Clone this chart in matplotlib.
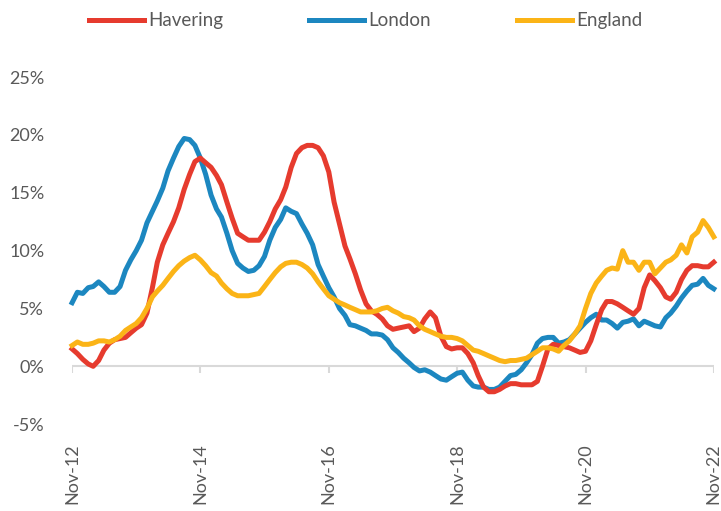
import numpy as np
import pandas as pd
import matplotlib
matplotlib.use('Agg')
from matplotlib import pyplot as plt
from matplotlib.ticker import FuncFormatter
import matplotlib.dates as mdates

# monthly annual change in house prices, Nov-12 .. Nov-22
months = pd.date_range('2012-11-01', periods=121, freq='MS')

havering = [1.5, 1.1, 0.6, 0.2, 0.0, 0.5, 1.4, 2.0, 2.3, 2.4,
            2.5, 2.9, 3.3, 3.6, 4.6, 6.8, 9.0, 10.5, 11.5, 12.5,
            13.7, 15.3, 16.6, 17.7, 18.0, 17.6, 17.2, 16.5, 15.7, 14.2,
            12.8, 11.5, 11.2, 10.9, 10.9, 10.9, 11.6, 12.5, 13.6, 14.4,
            15.5, 17.2, 18.4, 18.9, 19.1, 19.1, 18.9, 18.2, 16.8, 14.2,
            12.3, 10.4, 9.3, 8.0, 6.6, 5.4, 4.8, 4.5, 4.1, 3.5,
            3.2, 3.3, 3.4, 3.5, 3.0, 3.3, 4.1, 4.7, 4.2, 2.6,
            1.7, 1.5, 1.6, 1.6, 1.1, 0.3, -0.8, -1.8, -2.2, -2.2,
            -2.0, -1.7, -1.5, -1.5, -1.6, -1.6, -1.6, -1.3, 0.0, 1.5,
            1.9, 1.8, 1.7, 1.6, 1.4, 1.2, 1.3, 2.2, 3.6, 4.9,
            5.6, 5.6, 5.4, 5.1, 4.8, 4.5, 5.0, 6.8, 7.9, 7.4,
            6.8, 6.0, 5.8, 6.4, 7.5, 8.3, 8.7, 8.7, 8.6, 8.6,
            9.0]

london = [5.5, 6.4, 6.3, 6.8, 6.9, 7.3, 6.9, 6.4, 6.4, 6.9,
          8.3, 9.2, 10.0, 10.9, 12.4, 13.4, 14.3, 15.4, 16.9, 18.0,
          19.0, 19.7, 19.6, 19.1, 18.0, 16.6, 14.8, 13.6, 12.9, 11.5,
          10.0, 8.9, 8.5, 8.2, 8.3, 8.7, 9.5, 10.9, 12.0, 12.7,
          13.7, 13.4, 13.2, 12.3, 11.5, 10.5, 8.8, 7.8, 6.8, 6.0,
          5.0, 4.4, 3.6, 3.5, 3.3, 3.1, 2.8, 2.8, 2.7, 2.3,
          1.6, 1.2, 0.7, 0.3, -0.1, -0.4, -0.3, -0.5, -0.8, -1.1,
          -1.2, -0.9, -0.6, -0.5, -1.2, -1.7, -1.8, -1.8, -2.0, -2.0,
          -1.8, -1.3, -0.8, -0.7, -0.3, 0.3, 1.0, 2.0, 2.4, 2.5,
          2.5, 2.0, 2.1, 2.3, 2.8, 3.3, 3.8, 4.2, 4.5, 4.0,
          4.0, 3.7, 3.3, 3.8, 3.9, 4.1, 3.5, 3.9, 3.7, 3.5,
          3.4, 4.2, 4.6, 5.2, 5.9, 6.5, 7.0, 7.1, 7.6, 7.0,
          6.7]

england = [1.8, 2.1, 1.9, 1.9, 2.0, 2.2, 2.2, 2.1, 2.3, 2.6,
           3.1, 3.4, 3.7, 4.2, 5.0, 6.0, 6.5, 7.0, 7.6, 8.2,
           8.7, 9.1, 9.4, 9.6, 9.2, 8.7, 8.1, 7.8, 7.2, 6.7,
           6.3, 6.1, 6.1, 6.1, 6.2, 6.3, 6.9, 7.5, 8.1, 8.6,
           8.9, 9.0, 9.0, 8.8, 8.5, 8.0, 7.3, 6.7, 6.1, 5.8,
           5.5, 5.3, 5.1, 4.9, 4.7, 4.7, 4.7, 4.8, 5.0, 5.1,
           4.8, 4.6, 4.3, 4.2, 4.0, 3.5, 3.2, 3.0, 2.8, 2.6,
           2.5, 2.5, 2.4, 2.2, 1.8, 1.4, 1.3, 1.1, 0.9, 0.7,
           0.5, 0.4, 0.5, 0.5, 0.6, 0.7, 1.0, 1.3, 1.6, 1.6,
           1.5, 1.3, 1.8, 2.2, 2.8, 3.5, 5.0, 6.3, 7.2, 7.8,
           8.3, 8.5, 8.4, 10.0, 9.0, 9.0, 8.3, 9.0, 9.0, 8.0,
           8.5, 9.0, 9.2, 9.6, 10.5, 9.8, 11.2, 11.6, 12.6, 12.0,
           11.2]

plt.rcParams['font.family'] = ['Lato', 'DejaVu Sans']
grey = '#595959'

fig = plt.figure(figsize=(7.21, 5.11), dpi=100)
ax = fig.add_axes([0.1, 0.170, 0.890, 0.679])

ax.axhline(0, color='#d9d9d9', lw=1.5, zorder=1)
ticks = months[::24]
ax.vlines(ticks, -0.55, 0, color='#d9d9d9', lw=1.5, zorder=1)

ax.plot(months, havering, color='#e63b2e', lw=3.6, label='Havering', clip_on=False, zorder=3)
ax.plot(months, london, color='#1c87c0', lw=3.6, label='London', clip_on=False, zorder=2)
ax.plot(months, england, color='#fbb417', lw=3.6, label='England', clip_on=False, zorder=4)

ax.set_xlim(months[0], months[-1])
ax.set_ylim(-5, 25)
ax.set_yticks([-5, 0, 5, 10, 15, 20, 25])
ax.yaxis.set_major_formatter(FuncFormatter(lambda v, p: f'{v:.0f}%'))
ax.set_xticks(ticks)
ax.xaxis.set_major_formatter(mdates.DateFormatter('%b-%y'))
ax.tick_params(axis='x', length=0, pad=14, labelsize=13, labelcolor=grey, labelrotation=90)
ax.tick_params(axis='y', length=0, pad=20, labelsize=13, labelcolor=grey)
for s in ax.spines.values():
    s.set_visible(False)

h, l = ax.get_legend_handles_labels()
fig.legend(h, l, loc='upper center', bbox_to_anchor=(0.507, 1.0), ncol=3, frameon=False,
           fontsize=13.5, labelcolor=grey, handlelength=2.95, handletextpad=0.2,
           columnspacing=4.6, borderaxespad=0.25)

fig.savefig('out.png', dpi=100)
